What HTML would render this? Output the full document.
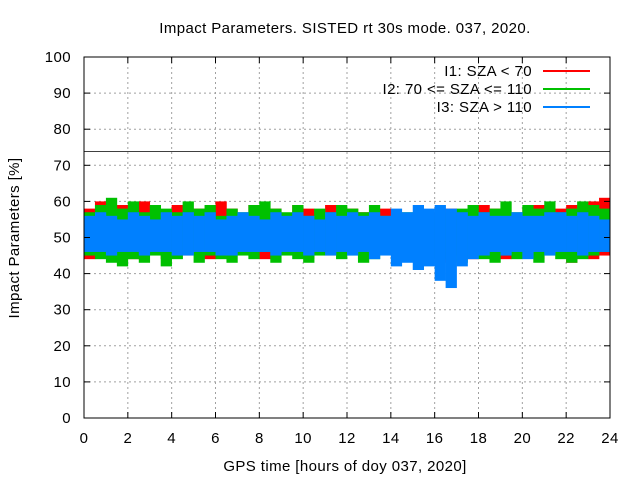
<!DOCTYPE html>
<html><head><meta charset="utf-8"><style>
body{margin:0;background:#fff}
svg text{font-family:"Liberation Sans",sans-serif;font-size:15px;letter-spacing:0.4px;fill:#000}
</style></head><body>
<svg id="chart" width="640" height="480">
<rect width="640" height="480" fill="#fff"/>
<g id="grid"></g>
<g id="series"></g>
<g id="axes"></g>
<text x="345" y="33" text-anchor="middle">Impact Parameters. SISTED rt 30s mode. 037, 2020.</text>
<text x="345" y="471" text-anchor="middle">GPS time [hours of doy 037, 2020]</text>
<text transform="translate(19,238) rotate(-90)" text-anchor="middle">Impact Parameters [%]</text>
<g id="legend"></g>
</svg>
<script>
const xTicks=[0,2,4,6,8,10,12,14,16,18,20,22,24];
const yTicks=[0,10,20,30,40,50,60,70,80,90,100];
const refLine=74;
const binHours=0.5;
const redHi=[58,60,57,59,56,60,58,57,59,56,58,57,60,58,56,59,57,58,56,59,58,57,59,56,58,57,56,58,57,56,55,57,56,58,56,57,59,58,57,56,58,59,57,58,59,57,60,61];
const redLo=[44,46,45,47,44,45,46,44,47,45,46,44,45,47,46,45,44,46,47,45,44,46,45,47,46,44,45,46,47,44,45,46,43,45,46,44,47,45,44,46,45,44,46,45,43,46,44,45];
const greenHi=[57,59,61,58,60,57,59,58,57,60,58,59,56,58,57,59,60,58,57,59,56,58,57,59,58,57,59,56,55,57,56,55,56,57,58,59,57,58,60,57,59,58,60,57,58,60,59,58];
const greenLo=[45,44,43,42,44,43,45,42,44,46,43,45,44,43,45,44,46,43,45,44,43,45,46,44,45,43,44,46,45,44,46,45,44,46,43,45,44,43,45,44,46,43,45,44,43,44,45,46];
const blueHi=[56,57,56,55,57,56,55,57,56,57,56,57,55,56,57,56,55,57,56,57,56,55,57,56,57,56,57,56,58,57,59,58,59,58,57,56,57,56,56,57,56,56,57,57,56,57,56,55];
const blueLo=[46,46,45,46,46,45,46,46,45,45,46,46,45,45,46,46,46,45,46,46,45,46,45,46,45,46,44,45,42,43,41,42,38,36,42,44,45,46,45,46,44,46,45,46,46,45,46,46];
const legendLabels=["I1: SZA < 70","I2: 70 <= SZA <= 110","I3: SZA > 110"];
const colors=["#ff0000","#00c000","#0080ff"];
const X0=84,X1=610,Y0=418,Y1=57;
const sx=h=>X0+(h/24)*(X1-X0);
const sy=v=>Y0-(v/100)*(Y0-Y1);
const NS="http://www.w3.org/2000/svg";
function mk(t,a,p){const e=document.createElementNS(NS,t);for(const k in a)e.setAttribute(k,a[k]);p.appendChild(e);return e;}
const grid=document.getElementById('grid'),axes=document.getElementById('axes'),ser=document.getElementById('series'),leg=document.getElementById('legend');
xTicks.forEach(t=>{
 if(t>0&&t<24){const g=mk('line',{x1:sx(t),x2:sx(t),y1:Y1,y2:Y0,stroke:'#a0a0a0','stroke-dasharray':'2,3'},grid);
 
 }
 const l=mk('text',{x:sx(t),y:Y0+25,'text-anchor':'middle'},axes);l.textContent=t;
 
 
 mk('line',{x1:sx(t),x2:sx(t),y1:Y0,y2:Y0-6,stroke:'#000'},axes);
 mk('line',{x1:sx(t),x2:sx(t),y1:Y1,y2:Y1+6,stroke:'#000'},axes);
});
yTicks.forEach(t=>{
 if(t>0&&t<100){const g=mk('line',{x1:X0,x2:X1,y1:sy(t),y2:sy(t),stroke:'#a0a0a0','stroke-dasharray':'2,3'},grid);
 
 }
 const l=mk('text',{x:X0-13,y:sy(t)+5,'text-anchor':'end'},axes);l.textContent=t;
 
 
 mk('line',{x1:X0,x2:X0+6,y1:sy(t),y2:sy(t),stroke:'#000'},axes);
 mk('line',{x1:X1,x2:X1-6,y1:sy(t),y2:sy(t),stroke:'#000'},axes);
});
const series=[[redHi,redLo],[greenHi,greenLo],[blueHi,blueLo]];
series.forEach((s,i)=>{
 const g=mk('g',{},ser);
 
 
 s[0].forEach((hi,j)=>{
  const lo=s[1][j];
  const r=mk('rect',{x:sx(j*binHours),width:sx(binHours)-sx(0)+0.3,y:sy(hi),height:sy(lo)-sy(hi),fill:colors[i]},g);
  
  
 });
});
const rl=mk('line',{x1:X0,x2:X1,y1:Math.round(sy(refLine))+0.5,y2:Math.round(sy(refLine))+0.5,stroke:'#404040','stroke-width':1},ser);


const fr=mk('rect',{x:X0,y:Y1,width:X1-X0,height:Y0-Y1,fill:'none',stroke:'#000'},axes);


legendLabels.forEach((lab,i)=>{
 const y=71+i*18;
 const t=mk('text',{x:532,y:y+5,'text-anchor':'end'},leg);t.textContent=lab;
 
 
 mk('line',{x1:543,x2:590,y1:y,y2:y,stroke:colors[i],'stroke-width':2},leg);
});
</script>
</body></html>
